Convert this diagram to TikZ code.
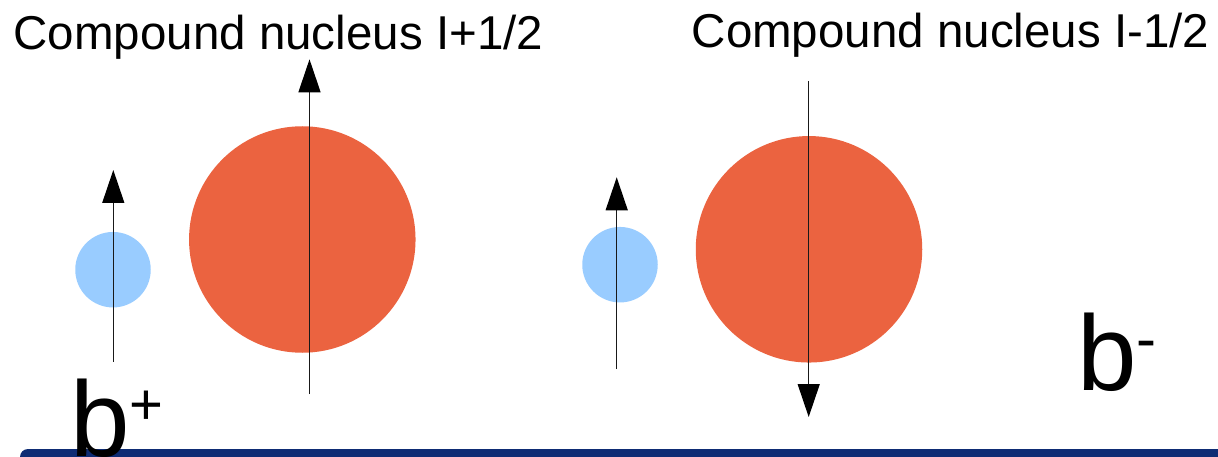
\documentclass[tikz,border=0pt]{standalone}
\usepackage{fontspec}
\setmainfont{Liberation Sans}
\usepackage{xcolor}
\usetikzlibrary{positioning,arrows.meta}
\definecolor{nucred}{RGB}{235,99,64}
\definecolor{projblue}{RGB}{153,204,255}
\definecolor{slideblue}{RGB}{14,44,116}

\begin{document}
\begin{tikzpicture}[x=1pt,y=-1pt,
  spinaxis/.style={draw=black!90, line width=1.3pt, -{Triangle[length=33pt,width=22pt,color=black]}},
  ball/.style={circle, inner sep=0pt, draw=none},
  title/.style={anchor=base west, inner sep=0pt, font=\fontsize{47.5}{57}\selectfont},
  bigsym/.style={anchor=base west, inner sep=0pt, font=\fontsize{107}{120}\selectfont}]
\useasboundingbox (0,0) rectangle (1218,457);

% Slide background strip
\fill[slideblue, rounded corners=8pt] (20,449) rectangle (1240,475);

% Nuclei
\foreach \name/\x/\y in {nucA/302.3/239.5, nucB/809/249.3} {
  \node[ball, fill=nucred, minimum size=226.5pt] (\name) at (\x,\y) {};
}

% Projectiles
\foreach \name/\x/\y in {projA/113/269.7, projB/620/264.7} {
  \node[ball, fill=projblue, minimum size=75.5pt] (\name) at (\x,\y) {};
}

% Spin axes (start / tip)
\coordinate (projAfrom) at (113.3,361.7);
\coordinate (projAto)   at (113.3,170);
\coordinate (nucAfrom)  at (309.5,394);
\coordinate (nucAto)    at (309.5,59.3);
\coordinate (projBfrom) at (616.7,369);
\coordinate (projBto)   at (616.7,177.3);
\coordinate (nucBfrom)  at (808.7,81);
\coordinate (nucBto)    at (808.7,417);
\foreach \s in {projA, nucA, projB, nucB} {
  \draw[spinaxis] (\s from) -- (\s to);
}

% Titles
\node[title] (headA) at (13.5,50) {Compound nucleus I+1/2};
\node[title] (headB) at (691.5,48) {Compound nucleus I-1/2};

% Channel labels
\node[bigsym] (bplus) at (70,456) {b\raisebox{32pt}{\fontsize{58}{60}\selectfont +}};
\node[bigsym] (bminus) at (1077,390) {b\raisebox{31pt}{\fontsize{60}{62}\selectfont -}};
\end{tikzpicture}
\end{document}
